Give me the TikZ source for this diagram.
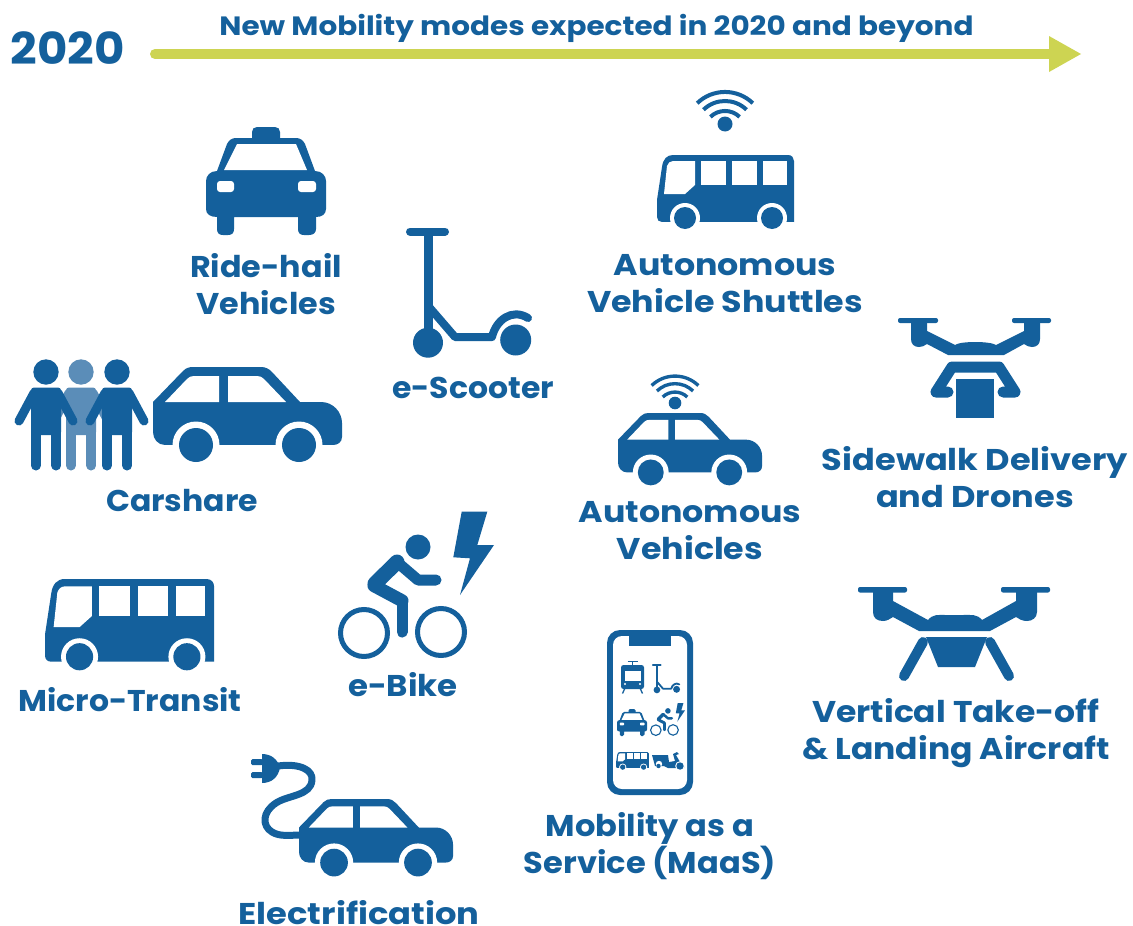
\documentclass[tikz,border=0pt]{standalone}
\usepackage{fontspec}
\setmainfont{Poppins}
\definecolor{mblue}{HTML}{14609C}
\definecolor{mlight}{HTML}{5B8DB8}
\definecolor{marrow}{HTML}{CDD452}
\newcommand\lblfont[2]{\fontspec{Poppins}[FakeStretch=#1]\fontsize{#2}{36.7}\selectfont\bfseries}
\tikzset{
  lbl/.style={text=mblue,font=\lblfont{#1}{30},align=center,inner sep=0pt,anchor=center},
  ink/.style={fill=mblue,draw=none},
  inkline/.style={draw=mblue,fill=none,line cap=round,line join=round},
  paper/.style={fill=white,draw=none},
}
% side-view car: origin top-left, 189 wide
\newcommand\caricon[3]{\begin{scope}[shift={(#1,#2)},scale=#3]
  \fill[ink] (0,40) -- (0,35) -- (30,4) .. controls (33,1) and (36,0) .. (40,0) -- (108,0) .. controls (113,0) and (116,2) .. (119,5) -- (147,35) -- (168,35) .. controls (180,35) and (189,45) .. (189,56) -- (189,70) .. controls (189,75) and (185,78) .. (180,78) -- (12,78) .. controls (5,78) and (0,72) .. (0,65) -- cycle;
  \fill[paper] (12,35) -- (34,12) .. controls (36,10) and (38,9) .. (41,9) -- (66,9) -- (66,35) -- cycle;
  \fill[paper] (75,9) -- (104,9) .. controls (107,9) and (109,10) .. (111,12) -- (133,35) -- (75,35) -- cycle;
  \fill[paper] (43,78) circle[radius=23.5];
  \fill[paper] (146,78) circle[radius=23.5];
  \fill[paper] (0,78.2) rectangle (189,110);
  \fill[ink] (43,78) circle[radius=17];
  \fill[ink] (146,78) circle[radius=17];
\end{scope}}
% bus: origin top-left, 137 wide
\newcommand\busicon[3]{\begin{scope}[shift={(#1,#2)},scale=#3]
  \fill[ink] (0,45) -- (5,12) .. controls (6,4) and (10,0) .. (16,0) -- (131,0) .. controls (135,0) and (137,3) .. (137,6) -- (137,67) -- (5,67) .. controls (2,67) and (0,65) .. (0,62) -- cycle;
  \fill[paper] (7,39) -- (10,11) .. controls (11,8) and (13,6) .. (16,6) -- (38,6) -- (38,30) -- (28,39) -- cycle;
  \fill[paper] (44,6) rectangle (69,30);
  \fill[paper] (75,6) rectangle (100,30);
  \fill[paper] (106,6) rectangle (130,30);
  \fill[paper] (28,63) circle[radius=15];
  \fill[paper] (115,63) circle[radius=15];
  \fill[paper] (0,67.2) rectangle (137,85);
  \fill[ink] (28,63) circle[radius=11];
  \fill[ink] (115,63) circle[radius=11];
\end{scope}}
% taxi: origin top-left of body bounding box, 120 wide, 108 high
\newcommand\taxiicon[3]{\begin{scope}[shift={(#1,#2)},scale=#3]
  \fill[ink] (46,11) -- (46,5) .. controls (46,2) and (48,0) .. (51,0) -- (69,0) .. controls (72,0) and (74,2) .. (74,5) -- (74,11) -- (90,11) .. controls (94,11) and (97,13) .. (99,17) -- (109,44) .. controls (116,44) and (120,49) .. (120,54) -- (120,82) .. controls (120,87) and (116,90) .. (110,90) -- (110,102) .. controls (110,106) and (107,108) .. (103,108) -- (98,108) .. controls (94,108) and (92,106) .. (92,102) -- (92,90) -- (28,90) -- (28,102) .. controls (28,106) and (26,108) .. (22,108) -- (17,108) .. controls (13,108) and (11,106) .. (11,102) -- (11,90) .. controls (4,90) and (0,87) .. (0,82) -- (0,54) .. controls (0,49) and (4,44) .. (11,44) -- (21,17) .. controls (23,13) and (26,11) .. (30,11) -- cycle;
  \fill[paper] (18,43) -- (31,17) -- (90,17) -- (101,43) -- cycle;
  \fill[paper,rounded corners=#3*3pt] (11,54) rectangle (28,65);
  \fill[paper,rounded corners=#3*3pt] (92,54) rectangle (110,65);
\end{scope}}
% wifi: origin at dot centre
\newcommand\wifiicon[3]{\begin{scope}[shift={(#1,#2)},scale=#3]
  \fill[ink] (0,0) circle[radius=7.5];
  \draw[mblue,line width=#3*4pt] (-27.8,-20.8) .. controls (-12.3,-35.8) and (12.3,-35.8) .. (27.8,-20.8);
  \draw[mblue,line width=#3*4pt] (-21.5,-14.3) .. controls (-9.5,-25.9) and (9.5,-25.9) .. (21.5,-14.3);
  \draw[mblue,line width=#3*4pt] (-14.6,-7.1) .. controls (-6.5,-15) and (6.5,-15) .. (14.6,-7.1);
\end{scope}}
% scooter: origin top-left of 125 wide icon
\newcommand\scootericon[3]{\begin{scope}[shift={(#1,#2)},scale=#3]
  \draw[inkline,line width=#3*8pt] (4,4.5) -- (39,4.5);
  \draw[inkline,line width=#3*9pt,line cap=butt] (22,4.5) -- (22,113);
  \draw[inkline,line width=#3*8pt] (24,81) -- (49,110) -- (86,110) .. controls (90,93) and (106,81) .. (122,91);
  \fill[ink] (22,115.7) circle[radius=15];
  \fill[ink] (109.7,113) circle[radius=15.5];
\end{scope}}
% e-bike: origin top-left, 156 wide
\newcommand\bikeicon[3]{\begin{scope}[shift={(#1,#2)},scale=#3]
  \draw[mblue,line width=#3*5pt] (26,121.3) circle[radius=23.5];
  \draw[mblue,line width=#3*5pt] (103,120.3) circle[radius=23.5];
  \fill[ink] (80,35.3) circle[radius=12.5];
  \draw[inkline,line width=#3*15pt] (59,50.3) -- (37,72);
  \draw[inkline,line width=#3*13pt] (36,74) -- (64,89);
  \draw[inkline,line width=#3*11pt] (64,89) -- (64,120.3);
  \draw[inkline,line width=#3*11pt] (59,50.3) -- (80,68.3) -- (98,68.3);
  \fill[ink] (123.7,0) -- (149.3,0) -- (139.3,33.3) -- (156,33.3) -- (122,83.3) -- (132,46.6) -- (115.3,45.6) -- cycle;
\end{scope}}
% person: origin at head centre
\newcommand\personicon[3]{\begin{scope}[shift={(#1,#2)}]
  \fill[#3] (0,0) circle[radius=12.7];
  \fill[#3,rounded corners=3pt] (-15,15.5) rectangle (15,63);
  \draw[#3,line width=10pt,line cap=round] (-10.2,55) -- (-10.2,93.5);
  \draw[#3,line width=10pt,line cap=round] (10.2,55) -- (10.2,93.5);
  \draw[#3,line width=9pt,line cap=round] (-12,21) -- (-27,49);
  \draw[#3,line width=9pt,line cap=round] (12,21) -- (27,49);
\end{scope}}
\begin{document}
\begin{tikzpicture}[x=1pt,y=-1pt]
\useasboundingbox (0,0) rectangle (1133,926);
\fill[white] (0,0) rectangle (1133,926);
% header
\node[lbl=1,font=\lblfont{1.06}{44}] (year) at (67.5,48.5) {2020};
\node[lbl=1,font=\lblfont{1.112}{26.5}] (title) at (596.5,28.5) {New Mobility modes expected in 2020 and beyond};
\coordinate (astart) at (155,54);
\coordinate (aend) at (1050,54);
\draw[marrow,line width=10pt,line cap=round] (astart) -- (aend);
\fill[marrow] (1049,36) -- (1081,54) -- (1049,72) -- cycle;
% icons
\taxiicon{206}{127}{1}
\scootericon{406}{227}{1}
\wifiicon{725}{124}{1}
\busicon{657}{155}{1}
\wifiicon{675}{403}{.84}
\caricon{618}{413}{.762}
% drone with parcel
\fill[ink,rounded corners=2pt] (898,318) rectangle (938,323);
\fill[ink,rounded corners=2pt] (1012,318) rectangle (1051,323);
\fill[ink] (911,320) -- (927,320) -- (927,331) -- (955,345) .. controls (960,341) and (990,341) .. (996,345) -- (1024,331) -- (1024,320) -- (1040,320) -- (1040,339) .. controls (1040,344) and (1037,347) .. (1032,347) .. controls (1029,347) and (1027,346) .. (1024,344) -- (1004,355) -- (948,355) -- (927,344) .. controls (924,346) and (922,347) .. (919,347) .. controls (914,347) and (911,344) .. (911,339) -- cycle;
\draw[inkline,line width=11pt] (948,392) -- (936,392) -- (952,367) -- (999,367) -- (1015,392) -- (1003,392);
\fill[ink] (956,379) rectangle (994,418);
% carshare
\personicon{81}{372}{mlight}
\personicon{46}{372}{mblue}
\personicon{117}{372}{mblue}
\caricon{153}{367}{1}
% micro-transit and bike
\busicon{45}{579}{1.234}
\bikeicon{338}{511.7}{1}
% electrification
\draw[inkline,line width=7pt,line cap=butt] (278,766) .. controls (300,763) and (313,770) .. (312,780) .. controls (311,796) and (288,795) .. (276,803) .. controls (262,812) and (262,826) .. (272,832) .. controls (280,837) and (290,835) .. (302,835);
\fill[ink] (262,754) .. controls (272,754) and (278,760) .. (280,768) .. controls (278,777) and (272,783) .. (262,783) -- cycle;
\fill[ink,rounded corners=1.5pt] (251,759) rectangle (263,765);
\fill[ink,rounded corners=1.5pt] (251,772) rectangle (263,778);
\caricon{299}{799}{.815}
% drone
\fill[ink,rounded corners=2pt] (858,587) rectangle (907,592.5);
\fill[ink,rounded corners=2pt] (1001,587) rectangle (1050,592.5);
\fill[ink] (873,590) -- (893,590) -- (893,601) -- (928,620) .. controls (933,614) and (938,615) .. (945,615) -- (963,615) .. controls (972,615) and (977,614) .. (982,620) -- (1016,601) -- (1016,590) -- (1037,590) -- (1037,612) .. controls (1037,618) and (1032,621) .. (1027,621) .. controls (1022,621) and (1019,619) .. (1016,617) -- (990,631) -- (919,631) -- (893,617) .. controls (890,619) and (887,621) .. (883,621) .. controls (877,621) and (873,618) .. (873,612) -- cycle;
\fill[ink] (926,637) -- (987,637) -- (975,667) -- (938,667) -- cycle;
\draw[inkline,line width=10pt] (923,642) -- (904,676);
\draw[inkline,line width=10pt] (990,642) -- (1009,676);
% phone
\fill[ink,rounded corners=13pt] (607,630) rectangle (693,795);
\fill[paper,rounded corners=9pt] (613,636) rectangle (687,789);
\fill[ink] (629,630) rectangle (671,646);
% phone: tram
\fill[ink,rounded corners=2.5pt] (621,665) rectangle (644,689);
\draw[mblue,line width=1.4pt] (627.5,661.5) -- (637.5,661.5);
\draw[mblue,line width=1.4pt] (632.5,661.5) -- (632.5,665);
\draw[mblue,line width=1.3pt] (625,688) -- (622.5,693.5);
\draw[mblue,line width=1.3pt] (640,688) -- (642.5,693.5);
\fill[paper] (624.5,670.5) rectangle (641,681);
\fill[paper] (625,684) circle[radius=1.2];
\fill[paper] (640,684) circle[radius=1.2];
% phone: other small icons
\scootericon{652}{664}{.224}
\taxiicon{617}{709}{.25}
\bikeicon{650}{703}{.224}
\busicon{616}{752}{.24}
% phone: moped
\fill[ink] (652,755) -- (668,755) -- (669,762) -- (675,761) -- (673,754) -- (677,752) -- (679,754) -- (676,755) -- (680,762) .. controls (683,763) and (685,766) .. (684,768) -- (668,768) -- (664,766) -- (655,766) -- cycle;
\fill[paper] (659,764) circle[radius=3.2];
\fill[paper] (680,766) circle[radius=4.8];
\fill[ink] (658.5,766) circle[radius=2.2];
\fill[ink] (680,766) circle[radius=3.7];
% labels
\node[lbl=1.06] (ridehail) at (266,284) {Ride-hail\\Vehicles};
\node[lbl=1.05] (escooter) at (473,388) {e-Scooter};
\node[lbl=1.11] (shuttles) at (725,283.5) {Autonomous\\Vehicle Shuttles};
\node[lbl=1.12] (sidewalk) at (975,477) {Sidewalk Delivery\\and Drones};
\node[lbl=1.11] (av) at (690,530.5) {Autonomous\\Vehicles};
\node[lbl=1.05] (carshare) at (182,500.5) {Carshare};
\node[lbl=1.08] (ebike) at (403,685) {e-Bike};
\node[lbl=1.05] (micro) at (130,700) {Micro-Transit};
\node[lbl=1.10] (vtol) at (956,733) {Vertical Take-off\\\& Landing Aircraft};
\node[lbl=1.07] (maas) at (650,846) {Mobility as a\\Service (MaaS)};
\node[lbl=1.125] (electric) at (359,912.5) {Electrification};
\end{tikzpicture}
\end{document}
